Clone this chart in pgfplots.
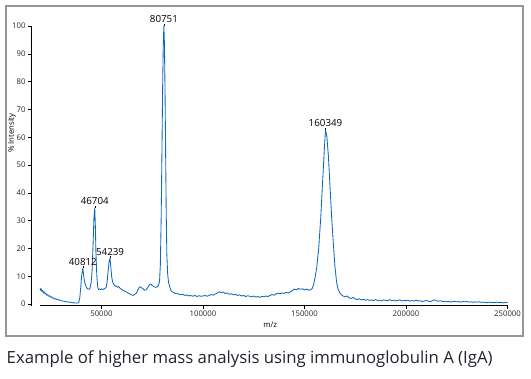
\documentclass[border=0pt]{standalone}
\usepackage{pgfplots}
\pgfplotsset{compat=1.18}
\usepackage{fontspec}
\setmainfont{Open Sans}
\definecolor{specblue}{RGB}{16,104,190}
\definecolor{boxgray}{RGB}{150,150,150}
\definecolor{captxt}{RGB}{35,35,45}
\begin{document}
\begin{tikzpicture}[x=1bp,y=1bp]
\path[use as bounding box] (0,0) rectangle (531,-378);
\draw[boxgray, line width=1.3bp] (6,-6) rectangle (523,-336);
\node[anchor=base west, inner sep=0pt, text=captxt, font=\fontsize{16.8}{20}\selectfont] at (6.5,-363) {Example of higher mass analysis using immunoglobulin A (IgA)};
\begin{axis}[
  at={(31bp,-305.7bp)}, anchor=south west,
  scale only axis, width=476.5bp, height=279.7bp,
  xmin=15300, xmax=250000, ymin=-0.6, ymax=100,
  axis x line*=bottom, axis y line*=left,
  axis line style={-, black, line width=0.8bp},
  x axis line style={draw=none},
  xtick={50000,100000,150000,200000,250000},
  xticklabels={50000,100000,150000,200000,250000},
  ytick={0,10,20,30,40,50,60,70,80,90,100},
  yticklabels={0,10,20,30,40,50,60,70,80,90,100},
  scaled x ticks=false,
  tick align=outside, major tick length=3bp,
  tick style={black, line width=0.6bp},
  ticklabel style={font=\fontsize{7.8}{9}\selectfont, text=black!85},
  xticklabel style={yshift=1bp},
  yticklabel style={xshift=1bp},
  xlabel={m/z}, ylabel={\% Intensity},
  xlabel style={at={(axis description cs:0.502,-0.069)}, anchor=center, font=\fontsize{7.8}{9}\selectfont},
  ylabel style={at={(axis description cs:-0.040,0.617)}, anchor=center, font=\fontsize{7.8}{9}\selectfont},
  clip=false,
]
\draw[black, line width=0.8bp] (axis cs:19800,-0.6) -- (axis cs:250000,-0.6);
\addplot[specblue, line width=0.85bp, line join=round] coordinates {
(19800,5.8) (20100,4.9) (20400,5.4) (20700,4.5) (21000,4.9) (21400,4.0) (21800,4.4) (22200,3.6) (22600,3.9) (23000,3.2) (23500,3.4) (24000,2.8) (24500,3.0) (25000,2.4) (25500,2.6) (26000,2.1) (26500,2.2) (27000,1.8) (27500,1.9) (28000,1.6) (28500,1.7) (29000,1.4) (29500,1.4) (30000,1.2) (31000,1.1) (32000,0.9) (33000,0.8) (34000,0.7) (35000,0.6) (36000,0.45) (37000,0.4) (38000,0.35) (38800,0.5)
(39300,2.0) (39800,6.0) (40300,10.5) (40812,12.8) (41200,10.5) (41600,8.3) (42100,7.0) (42600,6.0) (43200,5.4) (43800,5.3) (44300,5.6) (44900,7.5) (45400,12.0) (45900,22.0) (46300,31.0) (46704,34.5) (47000,28.0) (47300,18.0) (47700,10.5) (48100,6.5) (48500,5.2) (49000,5.4) (49500,5.2) (50000,5.5) (50600,5.2) (51200,5.4) (51700,5.6) (52300,6.0) (52800,8.0) (53300,12.0) (53800,15.5) (54239,16.4) (54700,12.5) (55100,9.5) (55600,7.8) (56100,7.0) (56700,6.4) (57300,6.6) (57900,6.0) (58500,6.3) (59200,5.6) (60000,5.3) (60800,4.8) (61600,4.6) (62400,4.3) (63200,3.9) (64000,3.6) (64800,3.3) (65600,3.1) (66400,3.5) (67200,3.9) (68000,5.2) (68800,6.2) (69500,6.0) (70300,5.6) (71100,5.0) (71900,5.1) (72700,5.8) (73500,6.8) (74200,7.2) (75000,6.7) (75800,6.3) (76600,6.0) (77300,6.1) (78000,6.6) (78600,8.0)
(79000,14.0) (79400,30.0) (79800,55.0) (80200,82.0) (80500,95.0) (80751,100) (81000,94.0) (81300,78.0) (81600,55.0) (81900,33.0) (82200,18.0) (82600,11.0) (83000,8.0) (83600,6.2) (84200,5.0) (84800,4.4)
(85500,4.2) (86200,3.8) (87000,3.9) (88000,3.6) (89000,3.4) (90000,3.5) (91000,3.1) (92000,3.3) (93000,2.9) (94000,3.1) (95000,2.8) (96000,3.1) (97000,2.7) (98000,3.0) (99000,2.8) (100000,2.9) (101000,3.1) (102000,2.8) (103000,3.1) (104000,3.4) (105000,3.2) (106000,3.6) (107000,3.9) (108000,4.4) (109000,4.1) (110000,4.3) (111000,3.8) (112000,4.0) (113000,3.5) (114000,3.7) (115000,3.3) (116000,3.5) (117000,3.1) (118000,3.3) (119000,2.9) (120000,3.1) (121000,2.7) (122000,3.0) (123000,2.8) (124000,2.6) (125000,2.9) (126000,2.5) (127000,2.7) (128000,2.4) (129000,2.8) (130000,2.6) (131000,2.9) (132000,2.7) (133000,3.1) (134000,3.4) (135000,3.2) (136000,3.6) (137000,3.9) (138000,3.7) (139000,4.0) (140000,3.8) (141000,4.2) (142000,4.0) (143000,4.4) (144000,4.8) (145000,5.4) (146000,5.1) (147000,5.6) (148000,5.3) (149000,5.5) (150000,5.1) (151000,5.4) (152000,5.0) (153000,5.1) (153800,5.6)
(154500,7.0) (155200,9.5) (156000,13.0) (157000,20.0) (158000,31.0) (159000,45.0) (159800,56.0) (160349,62.5) (161000,60.5) (161800,53.0) (162600,42.0) (163400,31.0) (164200,22.0) (165000,13.5) (165800,8.0) (166600,5.2) (167400,4.0) (168200,3.3) (169000,2.9) (170000,2.6) (171000,2.9) (172000,2.2) (173000,2.0) (174000,2.4) (175000,1.8) (176000,1.6) (177000,1.9) (178000,1.5) (179000,1.7) (180000,1.4) (181000,1.6) (182000,1.3) (183000,1.5) (184000,1.2) (185000,1.6) (186000,1.3) (187000,1.4) (188000,1.1) (189000,1.5) (190000,1.3) (191000,1.2) (192000,1.6) (193000,1.2) (194000,1.4) (195000,1.1) (196000,1.3) (197000,1.5) (198000,1.1) (199000,1.3) (200000,1.2) (201000,1.4) (202000,1.0) (203000,1.3) (204000,1.1) (205000,1.4) (206000,1.1) (207000,1.2) (208000,0.9) (209000,1.1) (210000,1.3) (211000,1.0) (212000,0.9) (213000,1.2) (214000,1.5) (215000,1.2) (216000,1.0) (217000,1.2) (218000,0.9) (219000,1.0) (220000,0.8) (221000,1.0) (222000,0.7) (223000,0.9) (224000,1.0) (225000,0.8) (226000,0.9) (227000,0.7) (228000,0.9) (229000,0.8) (230000,0.9) (231000,0.7) (232000,0.8) (233000,0.6) (234000,0.8) (235000,0.7) (236000,0.8) (237000,0.6) (238000,0.7) (239000,0.6) (240000,0.5) (241000,0.7) (242000,0.5) (243000,0.6) (244000,0.5) (245000,0.7) (246000,0.5) (247000,0.6) (248000,0.4) (249000,0.6) (250000,0.5)
};
\draw[black, line width=0.5bp] (axis cs:40812,12.8) -- ([yshift=2.5bp]axis cs:40812,12.8) node[anchor=south, inner sep=0.5bp, font=\fontsize{9.8}{11}\selectfont] {40812};
\draw[black, line width=0.5bp] (axis cs:46704,34.5) -- ([yshift=2.5bp]axis cs:46704,34.5) node[anchor=south, inner sep=0.5bp, font=\fontsize{9.8}{11}\selectfont] {46704};
\draw[black, line width=0.5bp] (axis cs:54239,16.4) -- ([yshift=2.5bp]axis cs:54239,16.4) node[anchor=south, inner sep=0.5bp, font=\fontsize{9.8}{11}\selectfont] {54239};
\draw[black, line width=0.5bp] (axis cs:80751,100) -- ([yshift=2.5bp]axis cs:80751,100) node[anchor=south, inner sep=0.5bp, font=\fontsize{9.8}{11}\selectfont] {80751};
\draw[black, line width=0.5bp] (axis cs:160349,62.5) -- ([yshift=2.5bp]axis cs:160349,62.5) node[anchor=south, inner sep=0.5bp, font=\fontsize{9.8}{11}\selectfont] {160349};
\end{axis}
\end{tikzpicture}
\end{document}
